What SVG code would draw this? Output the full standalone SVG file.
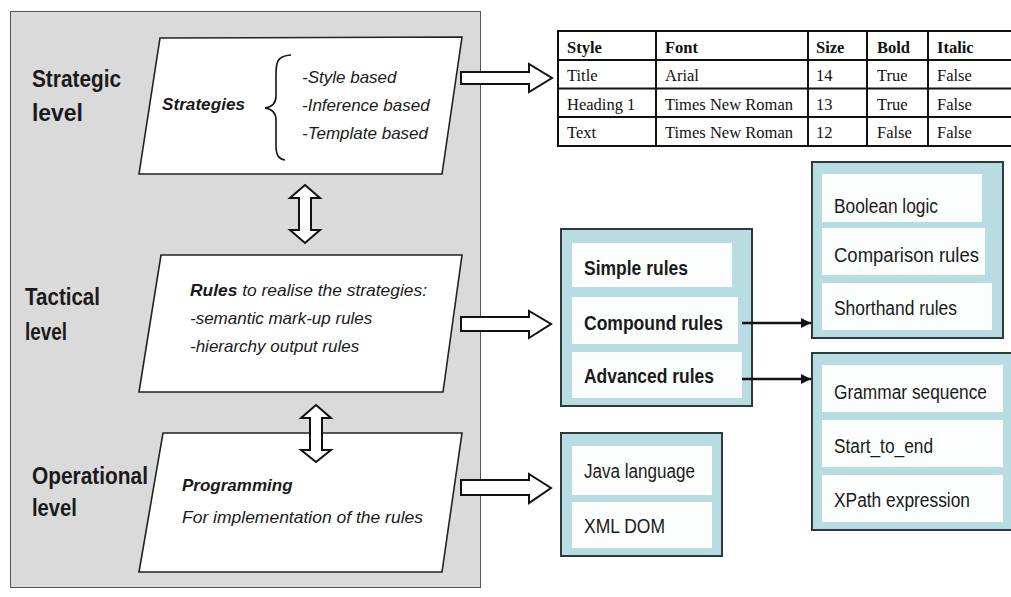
<svg xmlns="http://www.w3.org/2000/svg" width="1011" height="597" viewBox="0 0 1011 597">
<style>
.lvl{font-family:"Liberation Sans",Arial,sans-serif;font-weight:bold;font-size:24px;fill:#1a1a1a}
.pt{font-family:"Liberation Sans",Arial,sans-serif;font-style:italic;font-size:17px;fill:#1a1a1a}
.b{font-weight:bold}
.para{fill:#fff;stroke:#222;stroke-width:1.6}
.hol{fill:#fff;stroke:#111;stroke-width:2;stroke-linejoin:miter}
.tb{font-family:"Liberation Serif","Times New Roman",serif;font-size:16.5px;fill:#111}
.tbh{font-weight:bold}
.tl{stroke:#111;stroke-width:2;fill:none}
.bx{fill:#b7dce2;stroke:#2e3b3d;stroke-width:2}
.row{fill:#fcfefe}
.bt{font-family:"Liberation Sans",Arial,sans-serif;font-size:19.5px;fill:#1a1a1a}
.con{stroke:#111;stroke-width:2.5;fill:none}
</style>
<defs>
<marker id="ah" viewBox="0 0 10 10" refX="10" refY="5" markerWidth="4" markerHeight="4" orient="auto" markerUnits="strokeWidth">
<path d="M0,0 L10,5 L0,10 z" fill="#111"/>
</marker>
</defs>
<rect width="1011" height="597" fill="#fff"/>
<rect id="panel" x="10.5" y="11.5" width="470" height="576" fill="#dadada" stroke="#555" stroke-width="1"/>

<g id="level-labels">
<text class="lvl" x="32" y="87" textLength="89" lengthAdjust="spacingAndGlyphs">Strategic</text>
<text class="lvl" x="32" y="121" textLength="51" lengthAdjust="spacingAndGlyphs">level</text>
<text class="lvl" x="25" y="305" textLength="75" lengthAdjust="spacingAndGlyphs">Tactical</text>
<text class="lvl" x="25" y="340" textLength="42" lengthAdjust="spacingAndGlyphs">level</text>
<text class="lvl" x="32" y="484" textLength="116" lengthAdjust="spacingAndGlyphs">Operational</text>
<text class="lvl" x="32" y="516" textLength="45" lengthAdjust="spacingAndGlyphs">level</text>
</g>

<g id="strategic">
<polygon class="para" points="160,38 462,37 442,174 139,174"/>
<text class="pt b" x="162" y="110" textLength="83" lengthAdjust="spacingAndGlyphs">Strategies</text>
<path d="M291,55 C277,56 276,62 276,75 L276,96 C276,104 272,107 265,108 C272,109 276,112 276,120 L276,145 C276,156 279,159 285,160" fill="none" stroke="#111" stroke-width="1.6"/>
<text class="pt" x="302" y="83">-Style based</text>
<text class="pt" x="302" y="111">-Inference based</text>
<text class="pt" x="302" y="139">-Template based</text>
</g>

<g id="tactical">
<polygon class="para" points="161,255 462,255 443,392 139,392"/>
<text class="pt" x="190" y="296" textLength="237" lengthAdjust="spacingAndGlyphs"><tspan class="b">Rules</tspan> to realise the strategies:</text>
<text class="pt" x="190" y="324">-semantic mark-up rules</text>
<text class="pt" x="190" y="352">-hierarchy output rules</text>
</g>

<g id="operational">
<polygon class="para" points="163,433 462,433 442,572 139,572"/>
<text class="pt b" x="182" y="491">Programming</text>
<text class="pt" x="182" y="523" textLength="241" lengthAdjust="spacingAndGlyphs">For implementation of the rules</text>
</g>

<g id="table">
<rect x="557" y="31" width="460" height="115" fill="#fff"/>
<path class="tl" d="M557,31 H1015 M557,60 H1015 M557,88.5 H1015 M557,117 H1015 M557,146 H1015 M558,31 V146 M656,31 V146 M808,31 V146 M867,31 V146 M928,31 V146"/>
<g class="tb">
<text class="tbh" x="567" y="53">Style</text>
<text class="tbh" x="665" y="53">Font</text>
<text class="tbh" x="816" y="53">Size</text>
<text class="tbh" x="877" y="53">Bold</text>
<text class="tbh" x="937" y="53">Italic</text>
<text x="567" y="81">Title</text>
<text x="665" y="81">Arial</text>
<text x="816" y="81">14</text>
<text x="877" y="81">True</text>
<text x="937" y="81">False</text>
<text x="567" y="110">Heading 1</text>
<text x="665" y="110" textLength="128" lengthAdjust="spacingAndGlyphs">Times New Roman</text>
<text x="816" y="110">13</text>
<text x="877" y="110">True</text>
<text x="937" y="110">False</text>
<text x="567" y="138">Text</text>
<text x="665" y="138" textLength="128" lengthAdjust="spacingAndGlyphs">Times New Roman</text>
<text x="816" y="138">12</text>
<text x="877" y="138">False</text>
<text x="937" y="138">False</text>
</g>
</g>

<g id="rules-box">
<rect class="bx" x="561" y="229" width="191" height="177"/>
<rect class="row" x="572" y="243" width="160" height="44"/>
<rect class="row" x="572" y="297" width="166" height="47"/>
<rect class="row" x="572" y="352" width="170" height="46"/>
<text class="bt b" x="584" y="275" textLength="104" lengthAdjust="spacingAndGlyphs">Simple rules</text>
<text class="bt b" x="584" y="330" textLength="139" lengthAdjust="spacingAndGlyphs">Compound rules</text>
<text class="bt b" x="584" y="383" textLength="130" lengthAdjust="spacingAndGlyphs">Advanced rules</text>
</g>

<g id="compound-box">
<rect class="bx" x="812" y="162" width="191" height="176"/>
<rect class="row" x="822" y="174" width="160" height="48"/>
<rect class="row" x="822" y="228" width="163" height="47"/>
<rect class="row" x="822" y="283" width="170" height="47"/>
<text class="bt" x="834" y="213" textLength="104" lengthAdjust="spacingAndGlyphs">Boolean logic</text>
<text class="bt" x="834" y="262" textLength="145" lengthAdjust="spacingAndGlyphs">Comparison rules</text>
<text class="bt" x="834" y="315" textLength="123" lengthAdjust="spacingAndGlyphs">Shorthand rules</text>
</g>

<g id="advanced-box">
<rect class="bx" x="812" y="353" width="205" height="177"/>
<rect class="row" x="822" y="365" width="181" height="47"/>
<rect class="row" x="822" y="420" width="181" height="47"/>
<rect class="row" x="822" y="475" width="181" height="47"/>
<text class="bt" x="834" y="399" textLength="153" lengthAdjust="spacingAndGlyphs">Grammar sequence</text>
<text class="bt" x="834" y="453" textLength="99" lengthAdjust="spacingAndGlyphs">Start_to_end</text>
<text class="bt" x="834" y="507" textLength="136" lengthAdjust="spacingAndGlyphs">XPath expression</text>
</g>

<g id="programming-box">
<rect class="bx" x="561" y="433" width="161" height="123"/>
<rect class="row" x="572" y="446" width="140" height="49"/>
<rect class="row" x="572" y="502" width="140" height="46"/>
<text class="bt" x="584" y="478" textLength="111" lengthAdjust="spacingAndGlyphs">Java language</text>
<text class="bt" x="584" y="533" textLength="81" lengthAdjust="spacingAndGlyphs">XML DOM</text>
</g>

<g id="connectors">
<path class="hol" d="M305,185 L320,198 L311,198 L311,230 L320,230 L305,243 L290,230 L299,230 L299,198 L290,198 Z"/>
<path class="hol" d="M316,405 L331,418 L322,418 L322,450 L331,450 L316,462 L301,450 L310,450 L310,418 L301,418 Z"/>
<path class="hol" d="M461,72 L529,72 L529,64 L552,78 L529,92 L529,84 L461,84 Z"/>
<path class="hol" d="M461,317 L529,317 L529,311 L551,324 L529,338 L529,331 L461,331 Z"/>
<path class="hol" d="M461,480 L529,480 L529,474 L551,488 L529,503 L529,495 L461,495 Z"/>
<line class="con" x1="742" y1="323" x2="811" y2="323" marker-end="url(#ah)"/>
<line class="con" x1="742" y1="379" x2="811" y2="379" marker-end="url(#ah)"/>
</g>
</svg>
